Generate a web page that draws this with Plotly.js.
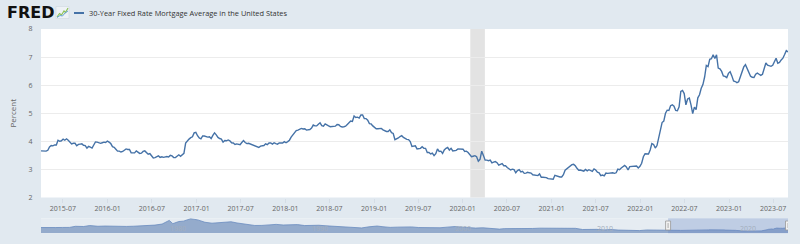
<!DOCTYPE html>
<html>
<head>
<meta charset="utf-8">
<script src="https://cdn.plot.ly/plotly-3.0.1.min.js"></script>
<style>
html,body{margin:0;padding:0;background:#e1e9f0;}
#chart{width:800px;height:244px;}
</style>
</head>
<body>
<div id="chart"></div>
<script>
// ---------- DATA ----------
const seriesName = '30-Year Fixed Rate Mortgage Average in the United States';
const yAxisLabel = 'Percent';
const weeklyStart = '2015-04-02';   // first weekly observation (Thursdays)
const weeklyEnd = '2023-08-31';

const rates2015 = [3.66,3.66,3.67,3.65,3.68, 3.80,3.85,3.84,3.87, 3.87,4.04,4.00,4.02, 4.08,4.04,4.09,4.04,3.98, 3.91,3.93,3.93,3.84, 3.89,3.90,3.91,3.86, 3.85,3.76,3.82,3.79,3.76, 3.87,3.98,3.97,3.95, 3.93,3.95,3.97,3.96,4.01];
const rates2016 = [3.97,3.92,3.81,3.79, 3.72,3.65,3.65,3.62, 3.64,3.68,3.73,3.71,3.71, 3.59,3.58,3.59,3.66, 3.61,3.57,3.58,3.64, 3.66,3.60,3.54,3.56,3.48, 3.41,3.42,3.45,3.48, 3.43,3.45,3.43,3.46, 3.46,3.44,3.50,3.48,3.42, 3.42,3.47,3.52,3.47, 3.54,3.57,3.94,4.03, 4.08,4.13,4.16,4.30,4.32];
const rates2017 = [4.20,4.12,4.09,4.19, 4.19,4.17,4.15,4.16, 4.10,4.21,4.30,4.23,4.14, 4.10,4.08,3.97,4.03, 4.02,4.05,4.02,3.95, 3.94,3.89,3.91,3.90,3.88, 3.96,4.03,3.96,3.92, 3.93,3.90,3.89,3.86,3.82, 3.78,3.78,3.83,3.83, 3.85,3.91,3.88,3.94, 3.94,3.90,3.95,3.92,3.90, 3.94,3.93,3.94,3.99];
const rates2018 = [3.95,3.99,4.04,4.15, 4.22,4.32,4.38,4.40, 4.43,4.46,4.44,4.45,4.40, 4.40,4.42,4.47,4.58, 4.55,4.55,4.61,4.66,4.56, 4.54,4.62,4.57,4.55, 4.52,4.53,4.52,4.54, 4.60,4.59,4.53,4.51,4.52, 4.54,4.60,4.65,4.72, 4.71,4.90,4.85,4.86, 4.83,4.94,4.94,4.81,4.81, 4.75,4.63,4.62,4.55];
const rates2019 = [4.51,4.45,4.45,4.45,4.46, 4.41,4.37,4.35,4.35, 4.41,4.31,4.28,4.06, 4.08,4.12,4.17,4.20, 4.14,4.10,4.07,4.06,3.99, 3.82,3.82,3.84,3.73, 3.75,3.75,3.81,3.75, 3.75,3.60,3.60,3.55,3.58, 3.49,3.56,3.73,3.64, 3.65,3.57,3.69,3.75,3.78, 3.69,3.75,3.66,3.68, 3.68,3.73,3.73,3.74];
const rates2020 = [3.72,3.64,3.65,3.60,3.51, 3.45,3.47,3.49,3.45, 3.29,3.36,3.65,3.50, 3.33,3.33,3.31,3.33,3.23, 3.26,3.28,3.24,3.15, 3.18,3.21,3.13,3.13, 3.07,3.03,2.98,3.01,2.99, 2.88,2.96,2.99,2.91, 2.93,2.86,2.87,2.90, 2.88,2.87,2.81,2.80,2.81, 2.78,2.84,2.72,2.72, 2.71,2.71,2.67,2.66,2.67];
const rates2021 = [2.65,2.79,2.77,2.73, 2.73,2.73,2.81,2.97, 3.02,3.05,3.09,3.17, 3.18,3.13,3.04,2.97,2.98, 2.96,2.94,3.00,2.95, 2.99,2.96,2.93,3.02, 2.98,2.90,2.88,2.78,2.80, 2.77,2.87,2.86,2.87, 2.87,2.88,2.86,2.88,3.01, 2.99,3.05,3.09,3.14, 3.09,2.98,3.10,3.10, 3.11,3.10,3.12,3.05,3.11];
const rates2022 = [3.22,3.45,3.56,3.55, 3.55,3.69,3.92,3.89, 3.76,3.85,4.16,4.42,4.67, 4.72,5.00,5.11,5.10, 5.27,5.30,5.25,5.10, 5.09,5.23,5.78,5.81,5.70, 5.30,5.51,5.54,5.30, 4.99,5.22,5.13,5.55, 5.66,5.89,6.02,6.29,6.70, 6.66,6.92,6.94,7.08, 6.95,7.08,6.61,6.58, 6.49,6.33,6.31,6.27,6.42];
const rates2023 = [6.48,6.33,6.15,6.13, 6.09,6.12,6.32,6.50, 6.65,6.73,6.60,6.42,6.32, 6.28,6.27,6.39,6.43, 6.39,6.35,6.39,6.57, 6.79,6.71,6.69,6.67,6.71, 6.81,6.96,6.78,6.81, 6.90,6.96,7.09,7.23,7.18];

// Long history shown in the navigator (approximate)
const histDates = ['1971-04-02','1971-10-01','1972-04-01','1972-10-01','1973-04-01','1973-09-01','1974-04-01','1974-09-01','1975-04-01','1975-10-01','1976-04-01','1976-10-01','1977-04-01','1977-10-01','1978-04-01','1978-10-01','1979-04-01','1979-10-01','1980-04-01','1980-07-01','1980-12-01','1981-04-01','1981-10-01','1982-04-01','1982-10-01','1983-04-01','1983-10-01','1984-04-01','1984-08-01','1985-01-01','1985-06-01','1985-12-01','1986-04-01','1986-10-01','1987-04-01','1987-10-01','1988-04-01','1988-10-01','1989-04-01','1989-10-01','1990-04-01','1990-10-01','1991-04-01','1991-10-01','1992-04-01','1992-10-01','1993-04-01','1993-10-01','1994-04-01','1994-11-01','1995-04-01','1995-10-01','1996-04-01','1996-10-01','1997-04-01','1997-10-01','1998-04-01','1998-10-01','1999-04-01','1999-10-01','2000-05-01','2000-10-01','2001-04-01','2001-10-01','2002-04-01','2002-10-01','2003-06-01','2003-10-01','2004-04-01','2004-10-01','2005-04-01','2005-10-01','2006-04-01','2006-10-01','2007-04-01','2007-10-01','2008-04-01','2008-10-01','2009-04-01','2009-10-01','2010-04-01','2010-10-01','2011-04-01','2011-10-01','2012-04-01','2012-10-01','2013-04-01','2013-10-01','2014-04-01','2014-10-01','2015-01-01'];
const histRates = [7.33,7.67, 7.30,7.40, 7.45,8.85, 8.60,9.80, 8.90,9.20, 8.80,8.90, 8.70,8.95, 9.40,9.90, 10.40,11.70, 16.35,12.20,14.90, 15.40,18.45, 17.00,14.00, 12.80,13.40, 13.70,14.60, 13.10,12.20,10.90, 9.90,10.00, 10.60,11.30, 10.50,10.30, 11.00,9.80, 10.30,10.20, 9.50,8.80, 8.60,8.00, 7.50,6.80, 8.20,9.20, 8.30,7.50, 7.80,8.00, 8.10,7.30, 7.10,6.80, 7.00,7.80, 8.60,7.80, 7.00,6.60, 7.00,6.10, 5.30,5.90, 5.80,5.70, 5.80,6.10, 6.50,6.40, 6.20,6.40, 5.90,6.30, 4.80,4.95, 5.00,4.30, 4.80,4.10, 3.90,3.40, 3.45,4.20, 4.30,4.00, 3.70];

const xTickLabels = ['2015-07','2016-01','2016-07','2017-01','2017-07','2018-01','2018-07','2019-01','2019-07','2020-01','2020-07','2021-01','2021-07','2022-01','2022-07','2023-01','2023-07'];
const yTickValues = [2,3,4,5,6,7,8];
const navTickLabels = ['1980','1990','2000','2010','2020'];
const recessionStart = ['2020-02-01'];
const recessionEnd = ['2020-04-01'];

// ---------- BUILD ----------
const weeklyRates = [].concat(rates2015, rates2016, rates2017, rates2018, rates2019, rates2020, rates2021, rates2022, rates2023);
const t0 = Date.parse(weeklyStart + 'T00:00:00Z');
const weeklyDates = weeklyRates.map((_, i) => new Date(t0 + i * 7 * 86400000).toISOString().slice(0, 10));

const LINE = '#4572a7';
const FONT = 'Open Sans, Lato, sans-serif';
const TXT = '#666666';

// pixel -> paper helpers for decorations (plot area: x 41..788, y 29..234)
const L = 41, R = 12, T = 29, B = 10, W = 800, H = 244;
const pw = W - L - R, ph = H - T - B;
const px = x => (x - L) / pw;
const py = y => (H - B - y) / ph;

const traces = [
  {
    type: 'scatter', mode: 'lines', name: seriesName,
    x: weeklyDates, y: weeklyRates, xaxis: 'x', yaxis: 'y',
    line: {color: LINE, width: 1.4}, hoverinfo: 'skip', showlegend: false
  },
  {
    type: 'scatter', mode: 'lines', name: 'navigator',
    x: histDates.concat(weeklyDates), y: histRates.concat(weeklyRates),
    xaxis: 'x2', yaxis: 'y2', fill: 'tozeroy', fillcolor: '#94abcc',
    line: {color: '#6a8cbf', width: 0.8}, hoverinfo: 'skip', showlegend: false
  }
];

const shapes = [];
// recession shading
recessionStart.forEach((s, i) => shapes.push({
  type: 'rect', xref: 'x', yref: 'paper', x0: s, x1: recessionEnd[i], y0: py(197.5), y1: 1,
  fillcolor: '#e3e3e3', line: {width: 0}, layer: 'below'
}));
// navigator background
shapes.push({type: 'rect', xref: 'paper', yref: 'paper', x0: 0, x1: 1, y0: py(233.3), y1: py(218.3),
  fillcolor: '#e6ecf2', line: {width: 0}, layer: 'below'});
// navigator selected window mask
shapes.push({type: 'rect', xref: 'x2', yref: 'paper', x0: weeklyStart, x1: weeklyEnd, y0: py(233.3), y1: py(218.3),
  fillcolor: 'rgba(102,133,194,0.3)', line: {width: 0}, layer: 'above'});
// navigator handles
[weeklyStart, weeklyEnd].forEach(d => {
  shapes.push({type: 'rect', xref: 'x2', yref: 'paper', xsizemode: 'pixel', xanchor: d,
    x0: -2.5, x1: 2.5, y0: py(230), y1: py(221), fillcolor: '#f2f2f2', line: {color: '#999999', width: 0.8}, layer: 'above'});
  shapes.push({type: 'line', xref: 'x2', yref: 'paper', xsizemode: 'pixel', xanchor: d,
    x0: 0, x1: 0, y0: py(228), y1: py(223), line: {color: '#999999', width: 0.8}, layer: 'above'});
});
// FRED icon (small chart glyph)
shapes.push({type: 'rect', xref: 'paper', yref: 'paper', x0: px(56), x1: px(69), y0: py(18.5), y1: py(6.5),
  fillcolor: '#eef2f6', line: {color: '#cfd8e1', width: 0.6}, layer: 'above'});
shapes.push({type: 'path', xref: 'paper', yref: 'paper',
  path: `M ${px(57)},${py(17)} L ${px(59.5)},${py(13.5)} L ${px(61.5)},${py(15)} L ${px(64)},${py(11)} L ${px(65.5)},${py(12.5)} L ${px(68)},${py(8)}`,
  line: {color: '#8cc152', width: 1.1}, layer: 'above'});
shapes.push({type: 'path', xref: 'paper', yref: 'paper',
  path: `M ${px(57)},${py(17.5)} L ${px(60)},${py(15.5)} L ${px(62.5)},${py(16)} L ${px(65)},${py(13)} L ${px(68)},${py(11)}`,
  line: {color: '#5b9bd5', width: 0.9}, layer: 'above'});
// legend line
shapes.push({type: 'line', xref: 'paper', yref: 'paper', x0: px(74), x1: px(84), y0: py(13), y1: py(13),
  line: {color: LINE, width: 2}, layer: 'above'});

const annotations = [
  {xref: 'paper', yref: 'paper', x: px(4.5), y: py(13), xanchor: 'left', yanchor: 'middle', showarrow: false,
   text: '<b>FRED</b>', font: {family: 'DejaVu Sans, sans-serif', size: 16, color: '#111111'}},
  {xref: 'paper', yref: 'paper', x: px(86.5), y: py(13), xanchor: 'left', yanchor: 'middle', showarrow: false,
   text: seriesName, font: {family: FONT, size: 7.4, color: '#333333'}}
];
// navigator year labels
navTickLabels.forEach(t => annotations.push({
  xref: 'x2', yref: 'paper', x: t + '-01-01', y: py(228), xanchor: 'left', yanchor: 'middle',
  xshift: 2, showarrow: false, text: t, font: {family: FONT, size: 7, color: '#a3aebd'}
}));

const layout = {
  width: W, height: H,
  margin: {l: L, r: R, t: T, b: B, pad: 0},
  paper_bgcolor: '#e1e9f0', plot_bgcolor: '#ffffff',
  showlegend: false,
  font: {family: FONT, size: 7, color: TXT},
  xaxis: {
    domain: [0, 1], anchor: 'y', type: 'date',
    range: [weeklyStart, weeklyEnd],
    tickvals: xTickLabels.map(t => t + '-01'), ticktext: xTickLabels,
    tickfont: {size: 7, color: TXT},
    showgrid: false, zeroline: false, showline: false,
    ticks: 'outside', ticklen: 4, tickcolor: '#d5dde6', tickwidth: 1,
    fixedrange: true
  },
  yaxis: {
    domain: [py(197.5), 1], anchor: 'x',
    range: [2, 8], tickvals: yTickValues,
    tickfont: {size: 7, color: TXT},
    showgrid: true, gridcolor: '#ececec', gridwidth: 1,
    zeroline: false, showline: false,
    ticks: 'outside', ticklen: 6, tickcolor: 'rgba(0,0,0,0)',
    title: {text: yAxisLabel, font: {size: 8, color: TXT}, standoff: 10},
    fixedrange: true
  },
  xaxis2: {
    domain: [0, 1], anchor: 'y2', type: 'date',
    range: [histDates[0], weeklyEnd],
    showticklabels: false,
    showgrid: false, zeroline: false, showline: false, ticks: '',
    fixedrange: true
  },
  yaxis2: {
    domain: [py(233.3), py(218.3)], anchor: 'x2',
    range: [0, 19], visible: false, fixedrange: true
  },
  shapes: shapes,
  annotations: annotations
};

Plotly.newPlot('chart', traces, layout, {displayModeBar: false, staticPlot: true});
</script>
</body>
</html>
